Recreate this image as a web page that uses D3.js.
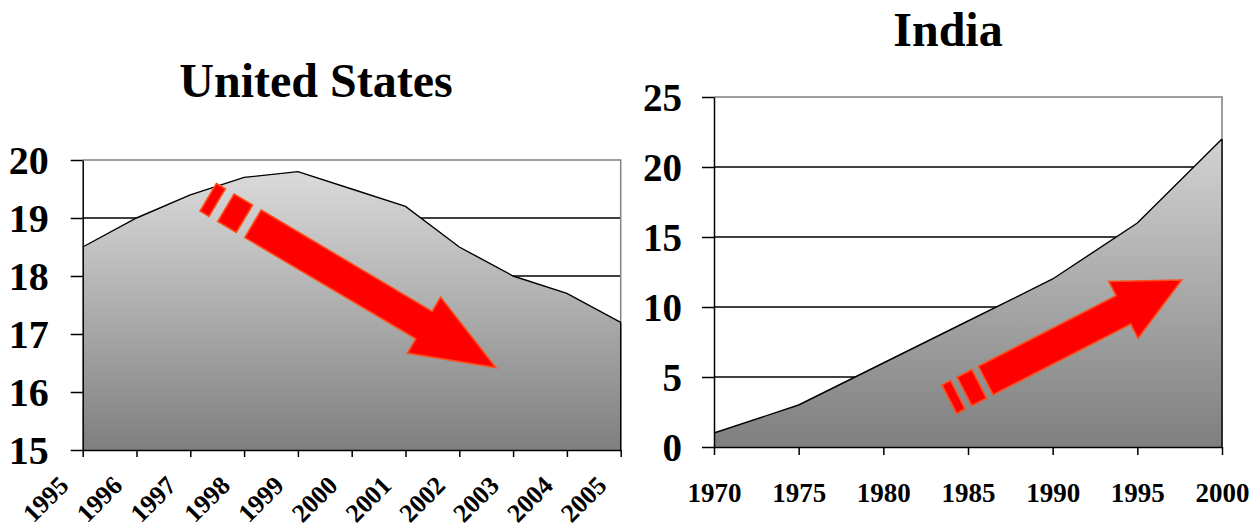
<!DOCTYPE html>
<html>
<head>
<meta charset="utf-8">
<script src="https://cdn.jsdelivr.net/npm/d3@7/dist/d3.min.js"></script>
<style>
  html, body { margin: 0; padding: 0; background: #fff; }
  svg { display: block; }
  text { font-family: "Liberation Serif", "Times New Roman", serif; font-weight: bold; fill: #000; }
</style>
</head>
<body>
<svg id="chart" width="1259" height="531"></svg>
<script>
// ---------- data ----------
const usTitle = "United States";
const usYears = [1995, 1996, 1997, 1998, 1999, 2000, 2001, 2002, 2003, 2004, 2005];
const usValues = [18.5, 19.0, 19.4, 19.7, 19.8, 19.5, 19.2, 18.5, 18.0, 17.7, 17.2];
const usYTicks = [15, 16, 17, 18, 19, 20];

const indiaTitle = "India";
const indiaYears = [1970, 1975, 1980, 1985, 1990, 1995, 2000];
const indiaValues = [1, 3, 6, 9, 12, 16, 22];
const indiaYTicks = [0, 5, 10, 15, 20, 25];

// trend arrows (start / tip in data units)
const usArrowFrom = [1998.165, 18.9];
const usArrowTo = [2002.68, 16.42];
const indiaArrowFrom = [1986.05, 4.75];
const indiaArrowTo = [1997.62, 11.93];

// ---------- drawing ----------
const svg = d3.select("#chart");
const defs = svg.append("defs");

function gradient(id, y0, y1) {
  const g = defs.append("linearGradient").attr("id", id)
    .attr("gradientUnits", "userSpaceOnUse")
    .attr("x1", 0).attr("x2", 0).attr("y1", y0).attr("y2", y1);
  g.append("stop").attr("offset", 0).attr("stop-color", "#dedede");
  g.append("stop").attr("offset", 1).attr("stop-color", "#7f7f7f");
}

function arrow(g, x, y, from, to, opt) {
  const S = [x(from[0]), y(from[1])], T = [x(to[0]), y(to[1])];
  const dx = T[0] - S[0], dy = T[1] - S[1];
  const L = Math.hypot(dx, dy);
  const u = [dx / L, dy / L], n = [-u[1], u[0]];
  const P = (a, h) => [S[0] + a * u[0] + h * n[0], S[1] + a * u[1] + h * n[1]];
  const hb = L - opt.headLen, hw = opt.shaftHalf, hh = opt.headHalf;
  const pts = [P(0, -hw), P(hb, -hw), P(hb, -hh), P(L, 0), P(hb, hh), P(hb, hw), P(0, hw)];
  const style = s => s.attr("fill", "#ff0000").attr("stroke", "#ff4d1a")
    .attr("stroke-width", 1.6).attr("stroke-linejoin", "miter");
  g.append("polygon").attr("points", pts.map(p => p.join(",")).join(" ")).call(style);
  opt.dashes.forEach(([a0, a1]) => {
    const q = [P(a0, -hw), P(a1, -hw), P(a1, hw), P(a0, hw)];
    g.append("polygon").attr("points", q.map(p => p.join(",")).join(" ")).call(style);
  });
}

function panel(cfg) {
  const g = svg.append("g");
  const x = d3.scaleLinear().domain(cfg.xDomain).range([cfg.left, cfg.right]);
  const y = d3.scaleLinear().domain(cfg.yDomain).range([cfg.bottom, cfg.top]);
  gradient(cfg.id, cfg.top, cfg.bottom);

  // gridlines
  g.append("g").selectAll("line")
    .data(cfg.yTicks.filter(d => d !== cfg.yDomain[0] && d !== cfg.yDomain[1]))
    .join("line")
    .attr("x1", cfg.left).attr("x2", cfg.right)
    .attr("y1", d => y(d)).attr("y2", d => y(d))
    .attr("stroke", "#000").attr("stroke-width", 1.3);

  // plot border (top & right, gray)
  g.append("path")
    .attr("d", `M${cfg.left},${y(cfg.yDomain[1])}H${cfg.right}V${cfg.bottom}`)
    .attr("fill", "none").attr("stroke", "#808080").attr("stroke-width", 1.5);

  // area
  const data = cfg.xs.map((d, i) => [d, cfg.ys[i]]);
  g.append("path").datum(data)
    .attr("d", d3.area().x(d => x(d[0])).y0(y(cfg.yDomain[0])).y1(d => y(d[1])))
    .attr("fill", `url(#${cfg.id})`);
  g.append("path").datum(data)
    .attr("d", d3.line().x(d => x(d[0])).y(d => y(d[1])))
    .attr("fill", "none").attr("stroke", "#000").attr("stroke-width", 1.4);
  // right edge of area
  g.append("line")
    .attr("x1", x(cfg.xs[cfg.xs.length - 1])).attr("x2", x(cfg.xs[cfg.xs.length - 1]))
    .attr("y1", y(cfg.ys[cfg.ys.length - 1])).attr("y2", cfg.bottom)
    .attr("stroke", "#000").attr("stroke-width", 1.4);

  // y axis
  const ya = g.append("g").attr("transform", `translate(${cfg.left},0)`)
    .call(d3.axisLeft(y).tickValues(cfg.yTicks).tickSize(12).tickPadding(cfg.yPad).tickSizeOuter(0).tickFormat(d3.format("d")));
  ya.select(".domain").attr("stroke", "#000").attr("stroke-width", 1.5);
  ya.selectAll(".tick line").attr("stroke", "#000").attr("stroke-width", 1.5);
  ya.selectAll(".tick text").attr("font-size", cfg.yFont).attr("dy", "0.34em")
    .attr("font-family", null);

  // x axis
  const xa = g.append("g").attr("transform", `translate(0,${cfg.bottom})`)
    .call(d3.axisBottom(x).tickValues(cfg.xs).tickSize(cfg.xTick).tickSizeOuter(0).tickFormat(d3.format("d")));
  xa.select(".domain").attr("stroke", "#000").attr("stroke-width", 1.5);
  xa.selectAll(".tick line").attr("stroke", "#000").attr("stroke-width", 1.5);
  const xt = xa.selectAll(".tick text").attr("font-size", cfg.xFont).attr("font-family", null);
  if (cfg.rotate) {
    xt.attr("text-anchor", "end").attr("y", 0).attr("dy", 0)
      .attr("transform", "translate(-13,37) rotate(-45)");
  } else {
    xt.attr("y", cfg.xLabelY).attr("dy", 0);
  }

  // title
  svg.append("text").attr("x", cfg.titleX).attr("y", cfg.titleY)
    .attr("text-anchor", "middle").attr("font-size", 48).text(cfg.title);

  arrow(g, x, y, cfg.arrowFrom, cfg.arrowTo, cfg.arrow);
}

panel({
  id: "gUS", title: usTitle, titleX: 316, titleY: 97,
  xs: usYears, ys: usValues, yTicks: usYTicks,
  xDomain: [1995, 2005], yDomain: [15, 20],
  left: 82.7, right: 620.7, top: 160, bottom: 450,
  yPad: 22, yFont: 40, xFont: 26, xTick: 7, rotate: true,
  arrowFrom: usArrowFrom, arrowTo: usArrowTo,
  arrow: { shaftHalf: 16, headHalf: 32.5, headLen: 83.5, dashes: [[-52, -41.6], [-31.5, -9.9]] }
});

panel({
  id: "gIN", title: indiaTitle, titleX: 948, titleY: 46,
  xs: indiaYears, ys: indiaValues, yTicks: indiaYTicks,
  xDomain: [1970, 2000], yDomain: [0, 25],
  left: 714, right: 1222, top: 97, bottom: 447,
  yPad: 20, yFont: 39, xFont: 27, xTick: 8, rotate: false, xLabelY: 55,
  arrowFrom: indiaArrowFrom, arrowTo: indiaArrowTo,
  arrow: { shaftHalf: 16, headHalf: 32, headLen: 65.5, dashes: [[-41, -31.4], [-24, -7.5]] }
});
</script>
</body>
</html>
